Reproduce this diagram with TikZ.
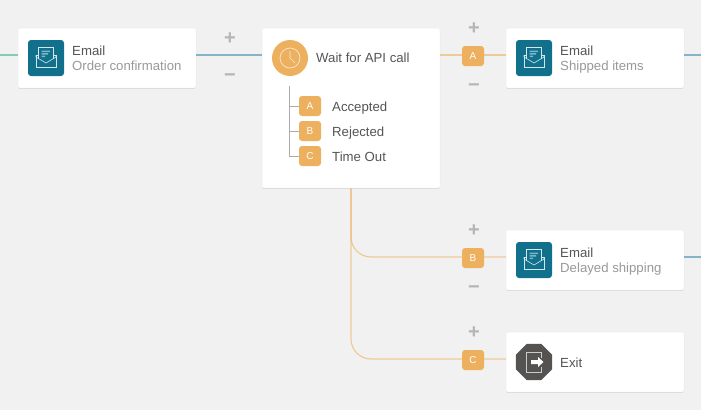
\documentclass[tikz,border=0pt]{standalone}
\usepackage{fontspec}
\setmainfont{Liberation Sans}
\usetikzlibrary{shadows,shapes.geometric}
\definecolor{pagebg}{HTML}{F1F1F1}
\definecolor{teal}{HTML}{11708C}
\definecolor{amber}{HTML}{EDB05F}
\definecolor{wireamber}{HTML}{EDB05F}
\definecolor{wireblue}{HTML}{84B4C6}
\definecolor{wiregreen}{HTML}{86CBB5}
\definecolor{slate}{HTML}{555351}
\definecolor{titletext}{HTML}{555555}
\definecolor{subtext}{HTML}{999999}
\definecolor{signgray}{HTML}{B5B5B5}
\definecolor{treegray}{HTML}{AAAAAA}
\definecolor{glyphline}{HTML}{D4E6EC}
\definecolor{glyphbar}{HTML}{7FB4C6}
\tikzset{
	card/.style={draw=black!6, line width=0.5pt, fill=white, rounded corners=2pt, minimum width=178pt, inner sep=0pt, drop shadow={shadow xshift=0pt, shadow yshift=-0.8pt, fill=black, opacity=0.14}},
	mailbox/.style={fill=teal, rounded corners=3pt, minimum size=36pt, inner sep=0pt},
	waitdisc/.style={circle, fill=amber, minimum size=36pt, inner sep=0pt},
	exitbox/.style={regular polygon, regular polygon sides=8, fill=slate, minimum size=39pt, inner sep=0pt},
	badge/.style={fill=amber, rounded corners=3pt, minimum width=22pt, minimum height=20pt, inner sep=0pt, text=white, font=\fontsize{10}{10}\selectfont},
	title/.style={anchor=base west, inner sep=0pt, text=titletext, font=\fontsize{13.2}{14}\selectfont},
	subtitle/.style={anchor=base west, inner sep=0pt, text=subtext, font=\fontsize{13.2}{14}\selectfont},
	sign/.style={inner sep=0pt, text=signgray, font=\bfseries\fontsize{20}{20}\selectfont},
	wire/.style={wireamber, line width=1.2pt, opacity=0.6},
	feed/.style={wireblue, line width=1.2pt},
}
\newcommand{\mailglyph}[2]{
	\begin{scope}[shift={(#1,#2)}]
		\fill[glyphbar] (-4.5,-7.5) rectangle (4,-6) (-4.5,-5) rectangle (2,-3.5) (-4.5,-2.5) rectangle (-1,-1);
		\draw[glyphline, line width=0.6pt] (-10,-2.5) -- (-10,9) -- (10,9) -- (10,-2.5) -- (7.5,-2.5);
		\draw[glyphline, line width=0.6pt] (-7.5,-2.5) -- (-10,-2.5) -- (-10,-1) -- (0,5) -- (10,-1) -- (10,-2.5);
		\draw[glyphline, line width=0.6pt] (-7.5,1) -- (-7.5,-11) -- (7.5,-11) -- (7.5,1);
	\end{scope}
}
\begin{document}
\begin{tikzpicture}[x=1pt, y=-1pt]
	\useasboundingbox[fill=pagebg] (0,0) rectangle (701,410);

	\coordinate (leftedge) at (0,55);
	\coordinate (rightedge) at (701,55);

	\node[card, minimum height=60pt] (order) at (107,58) {};
	\node[card, minimum height=160pt] (wait) at (351,108) {};
	\node[card, minimum height=60pt] (shipped) at (595,58) {};
	\node[card, minimum height=60pt] (delayed) at (595,260) {};
	\node[card, minimum height=60pt] (exit) at (595,362) {};

	\draw[wiregreen, line width=1.2pt] (leftedge) -- ([yshift=3pt]order.west);
	\draw[feed] ([yshift=3pt]order.east) -- ([yshift=3pt]order.east -| wait.west);
	\draw[feed] ([yshift=3pt]shipped.east) -- (rightedge);
	\draw[feed] ([yshift=3pt]delayed.east) -- ([yshift=3pt]delayed.east -| rightedge);
	\draw[wire] ([yshift=3pt]shipped.west -| wait.east) -- ([yshift=3pt]shipped.west);
	\draw[wire, rounded corners=20pt] (wait.south) |- ([yshift=3pt]delayed.west);
	\draw[wire, rounded corners=20pt] (wait.south) |- ([yshift=3pt]exit.west);

	\node[mailbox] (mailorder) at (46,58) {};
	\node[mailbox] (mailshipped) at (534,58) {};
	\node[mailbox] (maildelayed) at (534,260) {};
	\mailglyph{46}{58}
	\mailglyph{534}{58}
	\mailglyph{534}{260}

	\node[waitdisc] (clock) at (290,58) {};
	\draw[white, opacity=0.7, line width=0.7pt] (clock) circle (10);
	\draw[white, opacity=0.7, line width=0.7pt] (290,51) -- (290,58) -- (295,63);

	\node[exitbox] (exiticon) at (534,362) {};
	\draw[white, opacity=0.7, line width=0.7pt] (541,358) -- (541,352) -- (526,352) -- (526,372) -- (541,372) -- (541,367);
	\fill[white] (531,360) -- (538,360) -- (538,357) -- (543.5,362) -- (538,367) -- (538,364) -- (531,364) -- cycle;

	\node[title] (ordertitle) at (72,55) {Email};
	\node[subtitle] (ordersub) at (72,70) {Order confirmation};
	\node[title] (shippedtitle) at (560,55) {Email};
	\node[subtitle] (shippedsub) at (560,70) {Shipped items};
	\node[title] (delayedtitle) at (560,257) {Email};
	\node[subtitle] (delayedsub) at (560,272) {Delayed shipping};
	\node[title] (waittitle) at (316,62.5) {Wait for API call};
	\node[title] (exittitle) at (560,367) {Exit};

	\draw[treegray, line width=0.8pt] (289.5,86) -- (289.5,156) -- (299,156);
	\draw[treegray, line width=0.8pt] (289.5,106) -- (299,106);
	\draw[treegray, line width=0.8pt] (289.5,131) -- (299,131);

	\foreach \tag/\ypos/\word in {A/106/Accepted, B/131/Rejected, C/156/Time Out} {
		\node[badge] (list\tag) at (310,\ypos) {\tag};
		\node[title] (word\tag) at (332,\ypos+5) {\word};
	}

	\node[badge] (wireA) at (473,56) {A};
	\node[badge] (wireB) at (473,258) {B};
	\node[badge] (wireC) at (473,360) {C};

	\node[sign] (plusone) at (230,38.5) {+};
	\node[sign] (minusone) at (230,78) {−};
	\node[sign] (plusA) at (474,28.5) {+};
	\node[sign] (minusA) at (474,88) {−};
	\node[sign] (plusB) at (474,230.5) {+};
	\node[sign] (minusB) at (474,290) {−};
	\node[sign] (plusC) at (474,332.5) {+};
\end{tikzpicture}
\end{document}
